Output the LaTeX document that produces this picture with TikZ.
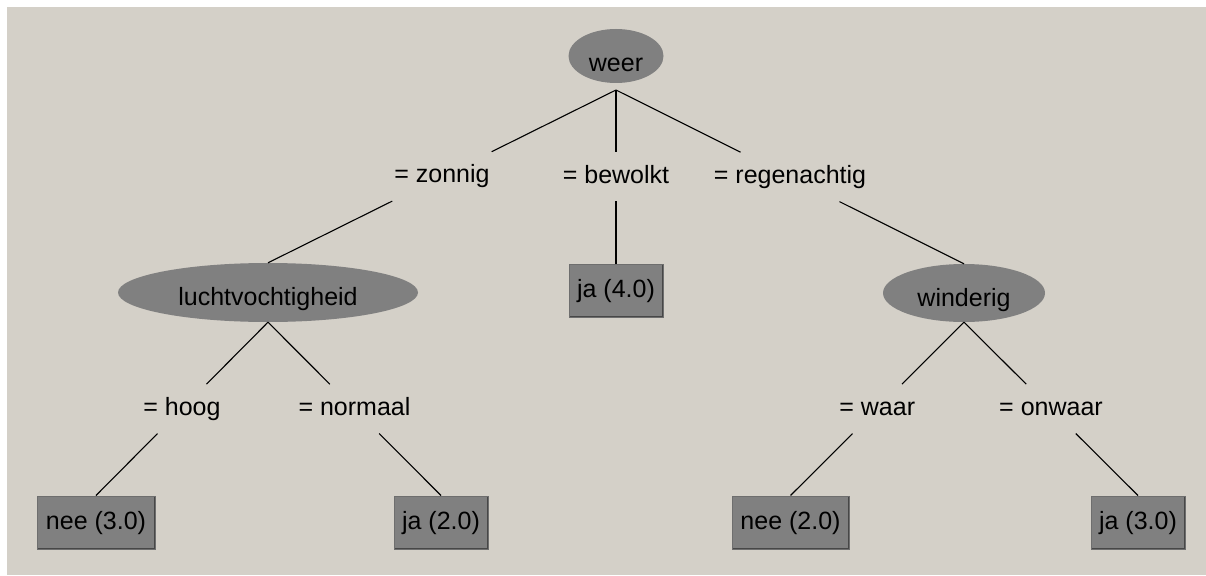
\documentclass[tikz,border=0pt]{standalone}
\usepackage{fontspec}
\setmainfont{Liberation Sans}
\usetikzlibrary{calc,shapes.geometric}
\definecolor{panel}{HTML}{D4D0C8}
\definecolor{nodegray}{HTML}{808080}
\definecolor{rimdark}{HTML}{474747}
\definecolor{rimlight}{HTML}{6E6E6E}
\tikzset{
  every node/.style={font=\fontsize{25}{30}\selectfont, inner sep=0pt, text=black},
  split/.style={ellipse, fill=nodegray, text depth=0pt},
  leaf/.style={rectangle, fill=nodegray, draw=rimlight, line width=1pt,
    minimum height=53pt, text height=18.5pt, text depth=5.5pt,
    path picture={\draw[rimdark, line width=3pt]
      (path picture bounding box.north east) --
      (path picture bounding box.south east) --
      (path picture bounding box.south west);}},
  cond/.style={rectangle, minimum height=49pt, inner xsep=4pt,
    text height=18.5pt, text depth=5.5pt},
  edge/.style={draw=black, line width=1.1pt}
}
\begin{document}
\begin{tikzpicture}[x=1pt, y=-1pt]
  \useasboundingbox (0,0) rectangle (1206,575);
  \fill[white] (0,0) rectangle (1206,575);
  \fill[panel] (7,7) rectangle (1206,575);

  % decision nodes
  \node[split, minimum width=95pt, minimum height=54pt, text height=32pt, outer ysep=7pt]
    (weer) at (616,56) {weer};
  \node[split, minimum width=300pt, minimum height=59pt, text height=25pt]
    (lucht) at (268,292.5) {luchtvochtigheid};
  \node[split, minimum width=162pt, minimum height=58pt, text height=26pt]
    (wind) at (964,293) {winderig};

  % leaves
  \node[leaf, minimum width=94pt]  (ja4)  at (616,290.5)   {ja (4.0)};
  \node[leaf, minimum width=118pt] (nee3) at (96,522.5)    {nee (3.0)};
  \node[leaf, minimum width=94pt]  (ja2)  at (441,522.5)   {ja (2.0)};
  \node[leaf, minimum width=117pt] (nee2) at (790.5,522.5) {nee (2.0)};
  \node[leaf, minimum width=94pt]  (ja3)  at (1138,522.5)  {ja (3.0)};

  % branch conditions, halfway along each branch
  \node[cond] (zon)  at ($(weer.south)!0.5!(lucht.north)$) {= zonnig};
  \node[cond] (bew)  at ($(weer.south)!0.5!(ja4.north)$)   {= bewolkt};
  \node[cond] (reg)  at ($(weer.south)!0.5!(wind.north)$)  {= regenachtig};
  \node[cond] (hoog) at ($(lucht.south)!0.5!(nee3.north)$) {= hoog};
  \node[cond] (norm) at ($(lucht.south)!0.5!(ja2.north)$)  {= normaal};
  \node[cond] (waar) at ($(wind.south)!0.5!(nee2.north)$)  {= waar};
  \node[cond] (onw)  at ($(wind.south)!0.5!(ja3.north)$)   {= onwaar};

  % branches
  \draw[edge] (weer.south) -- (zon);  \draw[edge] (zon)  -- (lucht.north);
  \draw[edge] (weer.south) -- (bew);  \draw[edge] (bew)  -- (ja4.north);
  \draw[edge] (weer.south) -- (reg);  \draw[edge] (reg)  -- (wind.north);
  \draw[edge] (lucht.south) -- (hoog); \draw[edge] (hoog) -- (nee3.north);
  \draw[edge] (lucht.south) -- (norm); \draw[edge] (norm) -- (ja2.north);
  \draw[edge] (wind.south) -- (waar);  \draw[edge] (waar) -- (nee2.north);
  \draw[edge] (wind.south) -- (onw);   \draw[edge] (onw)  -- (ja3.north);
\end{tikzpicture}
\end{document}
